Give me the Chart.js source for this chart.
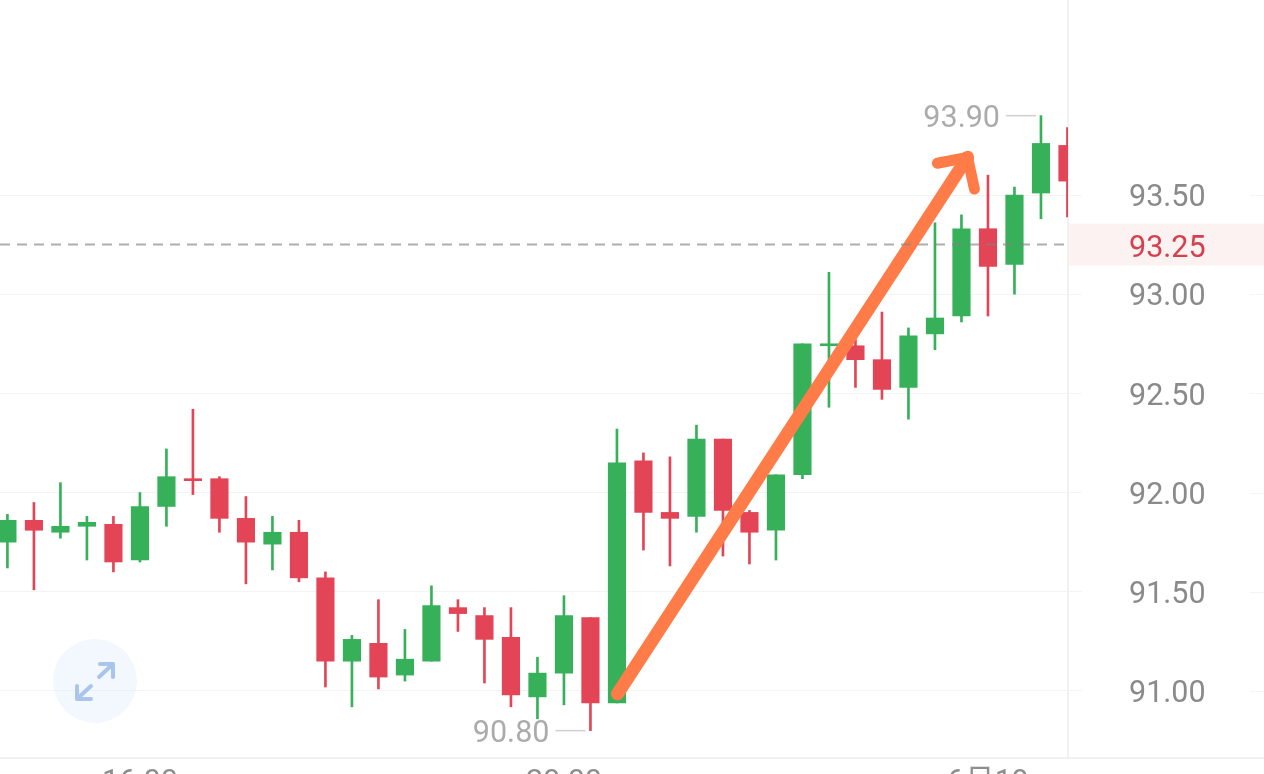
<!DOCTYPE html>
<html>
<head>
<meta charset="utf-8">
<title>K-line</title>
<script src="https://cdn.jsdelivr.net/npm/chart.js@4/dist/chart.umd.js"></script>
<style>
  html, body { margin: 0; padding: 0; background: #fff; overflow: hidden; }
  #wrap { width: 1264px; height: 774px; overflow: hidden; }
  canvas { display: block; }
</style>
</head>
<body>
<div id="wrap"><canvas id="kline" width="1264" height="800"></canvas></div>
<script>
// candles, oldest first
const opens  = [91.75,91.86,91.80,91.83,91.84,91.66,91.93,92.07,92.07,91.87,91.74,91.80,91.57,91.15,91.24,91.08,91.15,91.42,91.38,91.27,90.97,91.09,91.37,90.94,92.16,91.90,91.88,92.27,91.90,91.81,92.09,92.74,92.74,92.67,92.53,92.80,92.89,93.33,93.15,93.51,93.75];
const closes = [91.86,91.81,91.83,91.85,91.65,91.93,92.08,92.06,91.87,91.75,91.80,91.57,91.15,91.26,91.07,91.16,91.43,91.39,91.26,90.98,91.09,91.38,90.94,92.15,91.90,91.87,92.27,91.91,91.80,92.09,92.75,92.75,92.67,92.52,92.79,92.88,93.33,93.14,93.50,93.76,93.57];
const highs  = [91.89,91.95,92.05,91.88,91.88,92.00,92.22,92.42,92.08,91.98,91.88,91.86,91.60,91.28,91.46,91.31,91.53,91.46,91.42,91.42,91.17,91.48,91.37,92.32,92.20,92.18,92.34,92.27,91.91,92.09,92.75,93.11,92.77,92.91,92.83,93.36,93.40,93.60,93.54,93.90,93.84];
const lows   = [91.62,91.51,91.77,91.66,91.60,91.65,91.83,91.99,91.80,91.54,91.61,91.55,91.02,90.92,91.01,91.05,91.15,91.30,91.04,90.92,90.86,90.93,90.80,90.94,91.71,91.63,91.80,91.68,91.64,91.66,92.07,92.43,92.53,92.47,92.37,92.72,92.86,92.89,93.00,93.38,93.39];

const lastPrice = 93.25;
const yTicks = [91, 91.5, 92, 92.5, 93, 93.5];
const xTickIndex = [5, 21, 37];
const xTickLabels = ["16:00", "20:00", "6月19"];

// hand drawn arrow, in candle index / price
const arrowShaftX = [23.02, 36.23];
const arrowShaftY = [90.985, 93.69];
const arrowHeadX = [35.09, 36.23, 36.49];
const arrowHeadY = [93.66, 93.69, 93.53];

const UP = "#36B159";
const DOWN = "#E34556";
const GRID = "#F3F4F6";
const FONT = "Roboto";
const FONT_SIZE = 30.5;

const candleColors = opens.map((o, i) => closes[i] >= o ? UP : DOWN);
const toXY = (xs, ys) => xs.map((x, i) => ({ x: x, y: ys[i] }));

const overlay = {
  id: "overlay",
  beforeDraw(chart) {
    const ctx = chart.ctx, y = chart.scales.y;
    // highlight behind the latest price
    const py = y.getPixelForValue(lastPrice);
    ctx.save();
    ctx.fillStyle = "#FDF2F2";
    ctx.fillRect(chart.chartArea.right, py - 21, 196, 42);
    ctx.restore();
  },
  afterDatasetsDraw(chart) {
    const ctx = chart.ctx, y = chart.scales.y, x = chart.scales.x, area = chart.chartArea;
    ctx.save();

    // dashed latest price line
    const py = y.getPixelForValue(lastPrice);
    ctx.strokeStyle = "rgba(130,130,130,0.65)";
    ctx.lineWidth = 2;
    ctx.setLineDash([10, 7]);
    ctx.beginPath();
    ctx.moveTo(0, py);
    ctx.lineTo(area.right - 4, py);
    ctx.stroke();
    ctx.setLineDash([]);

    // grid stubs at the far right of the axis
    ctx.strokeStyle = GRID;
    ctx.lineWidth = 1;
    yTicks.forEach((t) => {
      const p = Math.round(y.getPixelForValue(t)) + 0.5;
      ctx.beginPath();
      ctx.moveTo(1250, p);
      ctx.lineTo(1264, p);
      ctx.stroke();
    });

    // bottom rule runs the whole width
    ctx.strokeStyle = "#F1F1F2";
    ctx.lineWidth = 2;
    ctx.beginPath();
    ctx.moveTo(0, area.bottom);
    ctx.lineTo(1264, area.bottom);
    ctx.stroke();

    // latest price label
    ctx.font = FONT_SIZE + "px " + FONT;
    ctx.fillStyle = "#D5404F";
    ctx.textAlign = "left";
    ctx.textBaseline = "middle";
    ctx.fillText(lastPrice.toFixed(2), 1129, py + 5);

    // high / low markers
    const hi = highs.indexOf(Math.max(...highs));
    const lo = lows.indexOf(Math.min(...lows));
    [[hi, highs[hi]], [lo, lows[lo]]].forEach(([i, v]) => {
      const px = x.getPixelForValue(i), vy = y.getPixelForValue(v);
      ctx.strokeStyle = "#CFCFCF";
      ctx.lineWidth = 1.5;
      ctx.beginPath();
      ctx.moveTo(px - 35, vy);
      ctx.lineTo(px - 5, vy);
      ctx.stroke();
      ctx.fillStyle = "#ABABAB";
      ctx.textAlign = "right";
      ctx.fillText(v.toFixed(2), px - 41, vy + 4);
    });

    // expand button
    ctx.fillStyle = "rgba(228,238,253,0.45)";
    ctx.beginPath();
    ctx.arc(95, 681, 42, 0, Math.PI * 2);
    ctx.fill();
    ctx.strokeStyle = "#A9C5EC";
    ctx.lineWidth = 4;
    ctx.lineCap = "round";
    ctx.lineJoin = "round";
    ctx.beginPath();
    ctx.moveTo(99, 677); ctx.lineTo(113, 664);
    ctx.moveTo(100, 664); ctx.lineTo(113, 664); ctx.lineTo(113, 677);
    ctx.moveTo(91, 686); ctx.lineTo(77, 699);
    ctx.moveTo(77, 686); ctx.lineTo(77, 699); ctx.lineTo(91, 699);
    ctx.stroke();

    ctx.restore();
  }
};

new Chart(document.getElementById("kline"), {
  data: {
    datasets: [
      {
        type: "bar",
        order: 3,
        data: toXY(opens.map((_, i) => i), lows.map((l, i) => [l, highs[i]])),
        backgroundColor: candleColors,
        barThickness: 2,
        grouped: false,
        borderWidth: 0
      },
      {
        type: "bar",
        order: 2,
        data: toXY(opens.map((_, i) => i), opens.map((o, i) => [o, closes[i]])),
        backgroundColor: candleColors,
        barThickness: 17.5,
        grouped: false,
        borderWidth: 0
      },
      {
        type: "line",
        order: 1,
        data: toXY(arrowShaftX, arrowShaftY),
        borderColor: "#FF7B47",
        borderWidth: 13,
        borderCapStyle: "round",
        pointRadius: 0,
        tension: 0
      },
      {
        type: "line",
        order: 0,
        data: toXY(arrowHeadX, arrowHeadY),
        borderColor: "#FF7B47",
        borderWidth: 11,
        borderCapStyle: "round",
        borderJoinStyle: "round",
        pointRadius: 0,
        tension: 0
      }
    ]
  },
  options: {
    responsive: false,
    animation: false,
    events: [],
    layout: { padding: 0 },
    plugins: { legend: { display: false }, tooltip: { enabled: false } },
    scales: {
      x: {
        type: "linear",
        offset: false,
        min: -0.28,
        max: 40.02,
        grid: { display: false },
        border: { display: false },
        afterBuildTicks: (s) => { s.ticks = xTickIndex.map((v) => ({ value: v })); },
        afterFit: (s) => { s.height = 42; s.paddingLeft = 0; s.paddingRight = 0; },
        ticks: {
          autoSkip: false,
          maxRotation: 0,
          padding: -1,
          color: "#8E8E8E",
          font: { family: FONT + ", 'Noto Sans CJK SC'", size: FONT_SIZE },
          callback: (v) => xTickLabels[xTickIndex.indexOf(v)]
        }
      },
      y: {
        type: "linear",
        position: "right",
        min: 90.662,
        max: 94.483,
        afterBuildTicks: (s) => { s.ticks = yTicks.map((v) => ({ value: v })); },
        // tick padding would otherwise shrink the plot top and bottom
        afterFit: (s) => { s.width = 196; s.paddingTop = 0; s.paddingBottom = 0; },
        grid: { color: GRID, lineWidth: 1, tickLength: 14 },
        border: { display: true, color: "#F1F1F2", width: 2 },
        ticks: {
          padding: 47,
          labelOffset: 3.5,
          color: "#8A8A8A",
          font: { family: FONT, size: FONT_SIZE },
          callback: (v) => v.toFixed(2)
        }
      }
    }
  },
  plugins: [overlay]
});
</script>
</body>
</html>
